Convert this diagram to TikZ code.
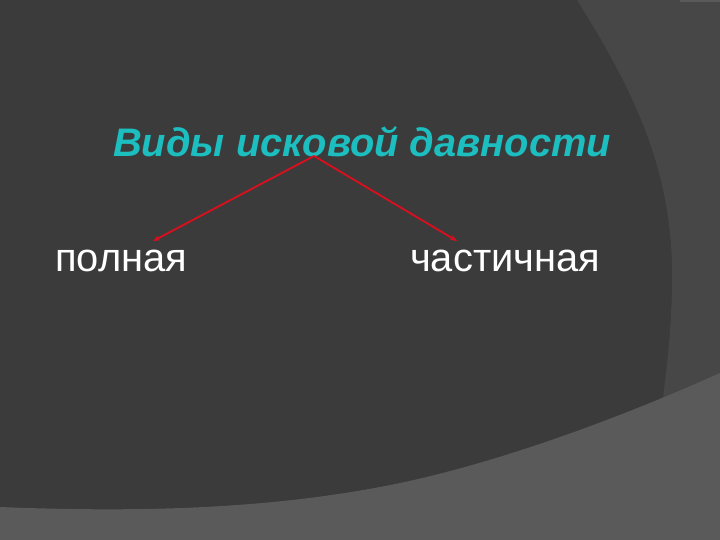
\documentclass[tikz,border=0pt]{standalone}
\usepackage{fontspec}
\setmainfont{Liberation Sans}
\usepackage{xcolor}
\usepackage{tikz}
\usetikzlibrary{arrows.meta}
\definecolor{slidedark}{RGB}{59, 59, 59}
\definecolor{slidemid}{RGB}{71, 71, 71}
\definecolor{slidelight}{RGB}{90, 90, 90}
\definecolor{titleteal}{RGB}{28, 190, 192}
\definecolor{arrowred}{RGB}{214, 16, 30}

\begin{document}
\begin{tikzpicture}[x=1bp, y=-1bp,
  word/.style={anchor=base west, inner sep=0pt, text=white, font=\fontsize{40}{48}\selectfont},
  branch/.style={-{Stealth[length=7pt, width=5.5pt]}, line width=1.9pt, arrowred}]
% Background
\useasboundingbox (0,0) rectangle (720,540);
\fill[slidedark] (0,0) rectangle (720,540);
\fill[slidemid] (577,0) .. controls (640,100) and (675,180) .. (672,290)
  .. controls (671,330) and (667,370) .. (660,420) -- (720,420) -- (720,0) -- cycle;
\fill[slidelight] (680,0) rectangle (720,2);
\fill[slidelight] (0,507) .. controls (150,513) and (280,508) .. (400,483)
  .. controls (500,462) and (620,418) .. (720,373) -- (720,540) -- (0,540) -- cycle;

% Title and the two kinds
\node[word, text=titleteal, font=\fontsize{40}{48}\selectfont\bfseries\itshape] (title) at (113,157) {Виды исковой давности};
\node[word] (polnaya) at (55,272) {полная};
\node[word] (chastichnaya) at (410,272) {частичная};

% Arrows
\coordinate (fork) at (314,156);
\coordinate (lefttip) at (153,241);
\coordinate (righttip) at (457,241);
\draw[branch] (fork) -- (lefttip);
\draw[branch] (fork) -- (righttip);
\end{tikzpicture}
\end{document}
